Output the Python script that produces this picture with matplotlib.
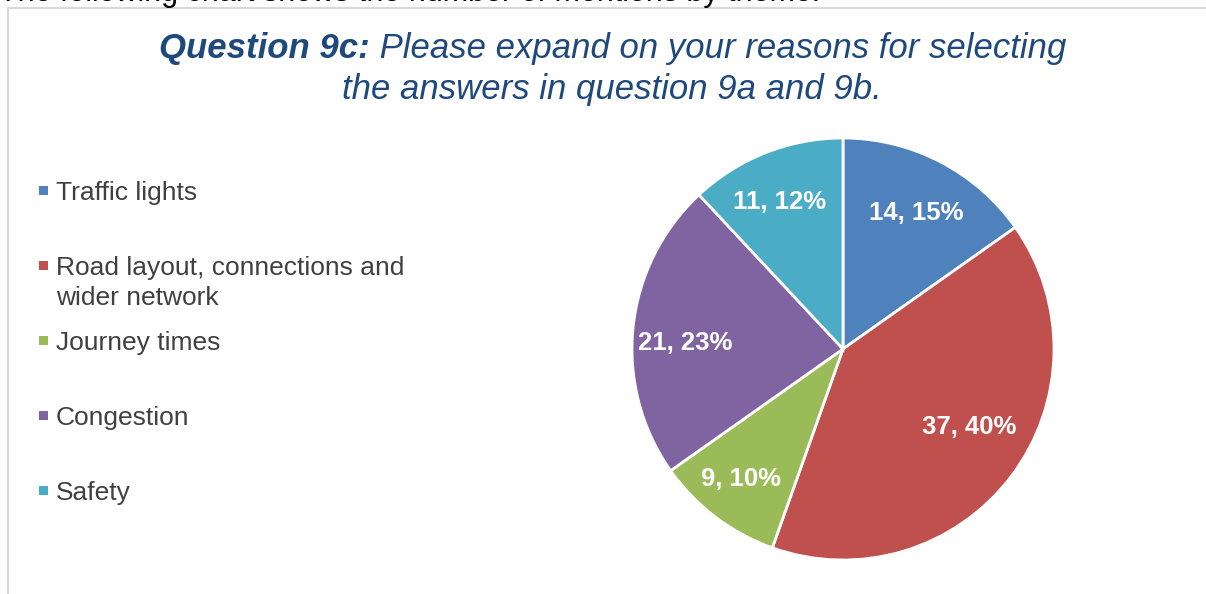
import matplotlib
matplotlib.use("Agg")
import matplotlib.pyplot as plt
from matplotlib.patches import Rectangle

plt.rcParams['font.family'] = ['Liberation Sans', 'DejaVu Sans']

# data
themes = ["Traffic lights", "Road layout, connections and\nwider network",
          "Journey times", "Congestion", "Safety"]
mentions = [14, 37, 9, 21, 11]
colors = ["#4F81BD", "#C0504D", "#9BBB59", "#8064A2", "#4BACC6"]

W, H = 1206, 594
fig = plt.figure(figsize=(W / 100, H / 100), dpi=100)

# chart frame (cut off at right and bottom)
fig.add_artist(Rectangle((8 / W, -0.1), 1.2, 1 - 8 / H + 0.1, transform=fig.transFigure,
                         fill=False, edgecolor="#D9D9D9", linewidth=1.5))

# line of document text above the chart, mostly cut off
fig.text(-1 / W, 1 - 1 / H, "The following chart shows the number of mentions by theme:",
         fontsize=22, color="black", va="baseline", ha="left")

# title: bold lead-in + italic rest, centred together
title_color = "#1F497D"
renderer = fig.canvas.get_renderer()
bold = fig.text(0, 1 - 58 / H, "Question 9c:", fontsize=25, color=title_color,
                style="italic", weight="bold", ha="left", va="baseline")
rest = fig.text(0, 1 - 58 / H, " Please expand on your reasons for selecting", fontsize=25,
                color=title_color, style="italic", ha="left", va="baseline")
wb = bold.get_window_extent(renderer).width
wr = rest.get_window_extent(renderer).width
x0 = 613 - (wb + wr) / 2
bold.set_x(x0 / W)
rest.set_x((x0 + wb) / W)
fig.text(612 / W, 1 - 99 / H, "the answers in question 9a and 9b.", fontsize=25,
         color=title_color, style="italic", ha="center", va="baseline")

# pie
cx, cy, r = 843, 349, 211
ax = fig.add_axes([(cx - r) / W, (H - cy - r) / H, 2 * r / W, 2 * r / H])
total = sum(mentions)


def fmt(p):
    n = int(round(p * total / 100))
    return f"{n}, {p:.0f}%"


wedges, texts, autotexts = ax.pie(mentions, colors=colors, startangle=90, counterclock=False,
                                  autopct=fmt, pctdistance=0.75,
                                  wedgeprops=dict(edgecolor="white", linewidth=2),
                                  textprops=dict(color="white", fontsize=18.5, fontweight="bold"))
ax.set_xlim(-1, 1)
ax.set_ylim(-1, 1)
ax.axis("off")

# small nudges so labels sit where Excel's best-fit put them
nudges = [(0, -0.02), (0, 0.085), (-0.03, -0.02), (0, -0.05), (-0.025, 0)]
for t, (dx, dy) in zip(autotexts, nudges):
    x, y = t.get_position()
    t.set_position((x + dx, y + dy))

# legend drawn by hand so the two-line item keeps Excel spacing
for i, (lab, col) in enumerate(zip(themes, colors)):
    yb = 200 + i * 75
    fig.add_artist(Rectangle((39 / W, 1 - (yb - 5) / H), 9 / W, 9 / H,
                             transform=fig.transFigure, facecolor=col, edgecolor="none"))
    for k, line in enumerate(lab.split("\n")):
        fig.text(56 / W, 1 - (yb + 30 * k) / H, line, fontsize=19, color="#404040",
                 ha="left", va="baseline")

fig.savefig("out.png", dpi=100)
